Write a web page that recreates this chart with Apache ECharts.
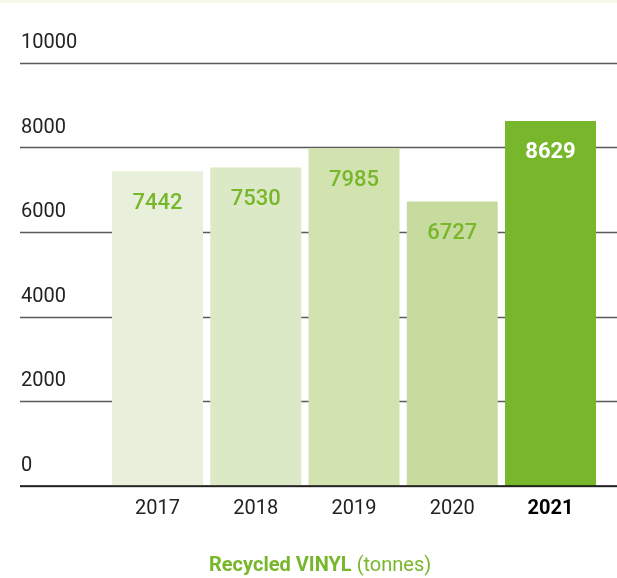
<!DOCTYPE html>
<html>
<head>
<meta charset="utf-8">
<script src="https://cdn.jsdelivr.net/npm/echarts@6/dist/echarts.min.js"></script>
<style>html,body{margin:0;padding:0;background:#fff;}#c{width:617px;height:578px;}</style>
</head>
<body>
<div id="c"></div>
<script>
const categories = ['2017', '2018', '2019', '2020', '2021'];
const values = [7442, 7530, 7985, 6727, 8629];
const barColors = ['#e8f0db', '#dce9c6', '#d2e3b0', '#c6db9d', '#78b72b'];
const yTicks = [0, 2000, 4000, 6000, 8000, 10000];
const titleBold = 'Recycled VINYL';
const titleNormal = '(tonnes)';

const FONT = 'Roboto';
const GREEN = '#78b72b';
const chart = echarts.init(document.getElementById('c'), null, {renderer: 'canvas'});
const yMin = yTicks[0], yMax = yTicks[yTicks.length - 1], yStep = yTicks[1] - yTicks[0];

chart.setOption({
  animation: false,
  backgroundColor: '#fff',
  graphic: [{type: 'rect', shape: {x: 0, y: 0, width: 617, height: 3}, style: {fill: '#f4f7ea'}, silent: true}],
  title: {
    text: '{b|' + titleBold + '} {n|' + titleNormal + '}',
    left: 204, top: 551,
    textStyle: {
      rich: {
        b: {fontFamily: FONT, fontSize: 20, fontWeight: 'bold', color: GREEN},
        n: {fontFamily: FONT, fontSize: 20, fontWeight: 'normal', color: GREEN}
      }
    }
  },
  grid: [
    {left: 20, right: 0, top: 63, bottom: 92},
    {left: 108.375, right: 17.375, top: 63, bottom: 92}
  ],
  xAxis: [
    {type: 'category', gridIndex: 0, data: categories, show: false},
    {
      type: 'category', gridIndex: 1, data: categories,
      axisLine: {show: false}, axisTick: {show: false},
      axisLabel: {
        margin: 13, fontFamily: FONT, fontSize: 20, color: '#222',
        formatter: (v, i) => i === categories.length - 1 ? '{b|' + v + '}' : v,
        rich: {b: {fontFamily: FONT, fontSize: 20, fontWeight: 'bold', color: '#000'}}
      }
    }
  ],
  yAxis: [
    {
      type: 'value', gridIndex: 0, min: yMin, max: yMax, interval: yStep,
      axisLine: {show: false}, axisTick: {show: false},
      axisLabel: {
        inside: true, margin: 1, verticalAlign: 'bottom', padding: [0, 0, 10, 0],
        fontFamily: FONT, fontSize: 20, color: '#222',
        formatter: v => String(v)
      },
      splitLine: {lineStyle: {color: '#5a5a5a', width: 1.4}}
    },
    {type: 'value', gridIndex: 1, min: yMin, max: yMax, interval: yStep, show: false}
  ],
  series: [
    {
      type: 'line', xAxisIndex: 0, yAxisIndex: 0, data: [], silent: true,
      markLine: {
        silent: true, symbol: 'none', label: {show: false},
        lineStyle: {color: '#111', width: 1.6, type: 'solid'},
        data: [{yAxis: 0}]
      }
    },
    {
      type: 'bar', xAxisIndex: 1, yAxisIndex: 1, barWidth: 91, z: 3,
      data: values.map((v, i) => ({
        value: v,
        itemStyle: {color: barColors[i]},
        label: i === values.length - 1
          ? {color: '#fff', fontWeight: 'bold'}
          : {color: GREEN, fontWeight: 500}
      })),
      label: {show: true, position: 'insideTop', distance: 21, fontFamily: FONT, fontSize: 22}
    }
  ]
});
</script>
</body>
</html>
